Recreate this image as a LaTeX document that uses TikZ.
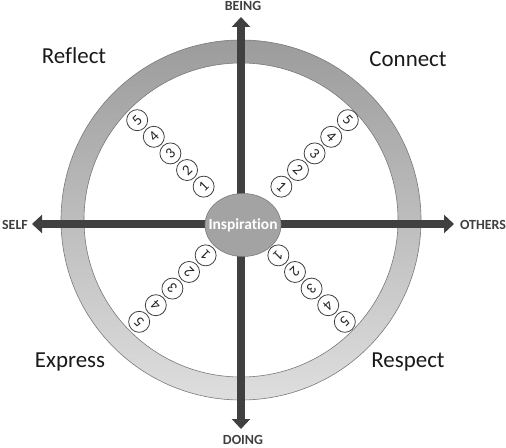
\documentclass[tikz,border=0pt]{standalone}
\usepackage{fontspec}
\setmainfont{Carlito}[Ligatures=NoCommon]
\usetikzlibrary{arrows.meta,shapes.geometric,calc}
\definecolor{axisgray}{HTML}{404040}
\definecolor{ringdark}{HTML}{9C9C9C}
\definecolor{ringlight}{HTML}{DEDEDE}
\definecolor{hubgray}{HTML}{A3A3A3}
\definecolor{edgegray}{HTML}{7A7A7A}

\tikzset{
  axis/.style={draw=axisgray, line width=8bp, -{Triangle[width=18bp,length=10bp]}},
  axislabel/.style={font=\bfseries\fontsize{14}{16}\selectfont, text=axisgray, inner sep=1bp},
  quadrant/.style={font=\fontsize{23}{27}\selectfont, text=black!90, inner sep=1bp},
  numball/.style={circle, draw=axisgray, fill=white, line width=0.8bp, minimum size=21bp,
    inner sep=0pt, font=\fontsize{15}{16}\selectfont, text=black!85}
}

\begin{document}
\begin{tikzpicture}[x=1bp,y=-1bp]
  \useasboundingbox (0,0) rectangle (506,448);
  \coordinate (hub) at (242,224);
  \coordinate (ringc) at (241,220);
  \shade[top color=ringdark, bottom color=ringlight, draw=edgegray, line width=0.6bp, even odd rule]
    (ringc) circle (180bp) (ringc) circle (157bp);

  \coordinate (being) at (241,17);
  \coordinate (doing) at (241,429);
  \coordinate (self) at (32,224);
  \coordinate (others) at (454,224);
  \draw[axis] (241,224) -- (being);
  \draw[axis] (241,224) -- (doing);
  \draw[axis] (241,224) -- (self);
  \draw[axis] (241,224) -- (others);

  \node[axislabel] (beinglabel) at (243,6) {BEING};
  \node[axislabel] (doinglabel) at (243,440) {DOING};
  \node[axislabel] (selflabel) at (15,225) {SELF};
  \node[axislabel] (otherslabel) at (483,225) {OTHERS};

  \node[ellipse, fill=hubgray, draw=edgegray, line width=0.6bp, minimum width=76bp, minimum height=63bp,
    inner xsep=-15bp, inner ysep=0pt, text=white, font=\bfseries\fontsize{15.5}{17}\selectfont]
    (inspiration) at (243,225) {Inspiration};

  \foreach \ux/\uy/\rot/\sx/\sy [count=\q] in {1/-1/-45/4/-2, -1/-1/45/-3/-2, -1/1/135/-1/-4, 1/1/225/1/-4}
    \foreach \k in {1,...,5}{
      \pgfmathsetmacro\dist{(50+23.5*(\k-1))/sqrt(2)}
      \node[numball, rotate=\rot] (ball\q-\k) at ($(hub)+({\sx+(\ux)*\dist},{\sy+(\uy)*\dist})$) {\k};
    }

  \node[quadrant] (reflect) at (74,56) {Reflect};
  \node[quadrant] (connect) at (408,59) {Connect};
  \node[quadrant] (express) at (70,362) {Express};
  \node[quadrant] (respect) at (408,362) {Respect};
\end{tikzpicture}
\end{document}
